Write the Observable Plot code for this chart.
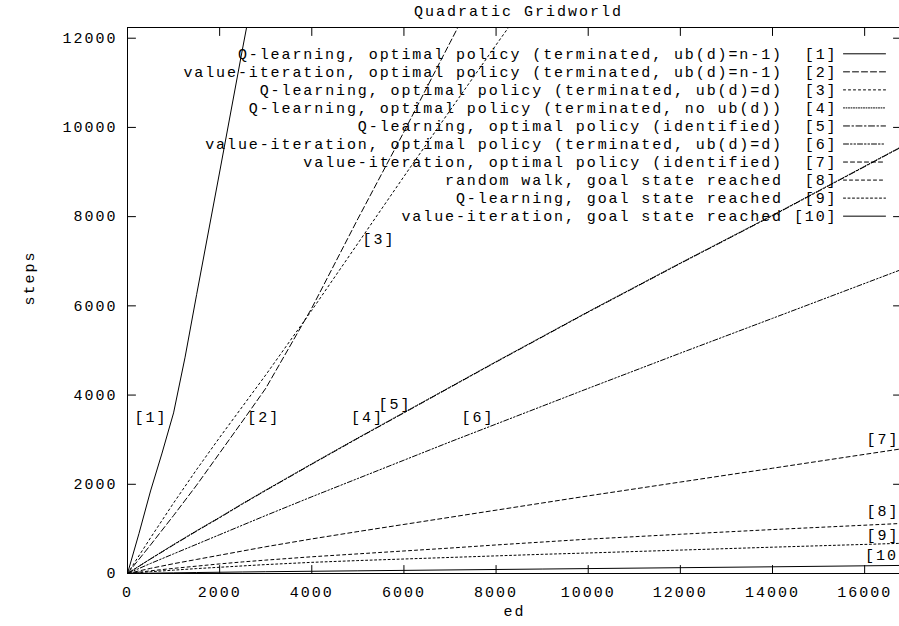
<!DOCTYPE html>
<html><head><meta charset="utf-8">
<script src="https://cdn.jsdelivr.net/npm/d3@7"></script>
<script src="https://cdn.jsdelivr.net/npm/@observablehq/plot@0.6"></script>
<style>
html,body{margin:0;padding:0;background:#fff;overflow:hidden}
#chart svg text{letter-spacing:2px}
#chart svg g.legend text{letter-spacing:1.9px}
</style></head><body><div id="chart"></div>
<script>
const title = "Quadratic Gridworld";
const xLabel = "ed";
const yLabel = "steps";
const xTicks = [0, 2000, 4000, 6000, 8000, 10000, 12000, 14000, 16000];
const yTicks = [0, 2000, 4000, 6000, 8000, 10000, 12000];

// common ed grid (null = no point at that ed for that series)
const ed = [0, 250, 500, 750, 1000, 1250, 1500, 2000, 2500, 3000, 4000, 5000, 6000, 7000, 8000, 9000, 10000, 12000, 14000, 16800];
const s1 = [0, 900, 1850, 2700, 3600, 4850, 6250, 9000, 11780, 14500, null, null, null, null, null, null, null, null, null, null];
const s2 = [0, null, 640, null, 1300, null, 1980, 2700, 3420, 4150, 5950, 7950, 9900, 11900, 13900, null, null, null, null, null];
const s3 = [0, null, 800, null, 1580, null, 2330, 3050, 3750, 4450, 5900, 7400, 8900, 10380, 11850, 13300, null, null, null, null];
const s4 = [0, null, 330, null, 650, null, 960, 1260, 1570, 1870, 2460, 3040, 3610, 4180, 4750, 5310, 5870, 6960, 8030, 9570];
const s5 = [0, null, 325, null, 640, null, 950, 1250, 1560, 1860, 2450, 3030, 3600, 4170, 4740, 5300, 5860, 6950, 8020, 9560];
const s6 = [0, null, 225, null, 440, null, 655, 870, 1085, 1300, 1720, 2130, 2540, 2950, 3350, 3750, 4150, 4940, 5720, 6815];
const s7 = [0, null, 115, null, 220, null, 315, 410, 505, 600, 775, 940, 1100, 1260, 1420, 1580, 1740, 2050, 2360, 2795];
const s8 = [0, null, 60, null, 115, null, 165, 215, 260, 300, 375, 440, 505, 570, 640, 705, 770, 880, 985, 1122];
const s9 = [0, null, 40, null, 75, null, 110, 140, 170, 200, 250, 290, 325, 360, 395, 430, 460, 525, 590, 677];
const s10 = [0, null, 8, null, 15, null, 22, 28, 34, 40, 50, 60, 70, 80, 90, 100, 110, 130, 150, 181];

const seriesNames = [
  "Q-learning, optimal policy (terminated, ub(d)=n-1)  [1]",
  "value-iteration, optimal policy (terminated, ub(d)=n-1)  [2]",
  "Q-learning, optimal policy (terminated, ub(d)=d)  [3]",
  "Q-learning, optimal policy (terminated, no ub(d))  [4]",
  "Q-learning, optimal policy (identified)  [5]",
  "value-iteration, optimal policy (terminated, ub(d)=d)  [6]",
  "value-iteration, optimal policy (identified)  [7]",
  "random walk, goal state reached  [8]",
  "Q-learning, goal state reached  [9]",
  "value-iteration, goal state reached [10]"
];
const seriesValues = [s1, s2, s3, s4, s5, s6, s7, s8, s9, s10];
const dashes = [null, "6,3", "2,3", "1,1.5", "6,2.5,1.5,2.5", "5,2,1.5,2,1.5,2", "4,3", "3,3", "2,2.5", null];

// in-plot tags (data coordinates)
const tagText = ["[1]", "[2]", "[3]", "[4]", "[5]", "[6]", "[7]", "[8]", "[9]", "[10]"];
const tagX = [150, 2600, 5100, 4850, 5450, 7250, 16040, 16040, 16040, 16010];
const tagY = [3500, 3500, 7500, 3500, 3800, 3500, 3000, 1400, 850, 400];
const tags = tagText.map((t, i) => ({t, x: tagX[i], y: tagY[i]}));

const seg = {draw(ctx, l) { ctx.moveTo(0, 0); ctx.lineTo(0, -l); }};
const fmt = d3.format("d");
const tickStyle = {length: 8, anchor: "start", shape: seg, stroke: "black", strokeWidth: 1};

const marks = [];
seriesValues.forEach((vals, i) => {
  const data = ed.map((x, j) => ({x, y: vals[j]})).filter(d => d.y != null);
  marks.push(Plot.line(data, {x: "x", y: "y", stroke: "black", strokeWidth: 1, strokeDasharray: dashes[i], clip: true}));
});
marks.push(
  Plot.frame({stroke: "black"}),
  Plot.vector(xTicks, {x: d => d, frameAnchor: "bottom", rotate: 0, ...tickStyle}),
  Plot.vector(xTicks, {x: d => d, frameAnchor: "top", rotate: 180, ...tickStyle}),
  Plot.vector(yTicks, {y: d => d, frameAnchor: "left", rotate: 90, ...tickStyle}),
  Plot.vector(yTicks, {y: d => d, frameAnchor: "right", rotate: -90, ...tickStyle}),
  Plot.axisX({anchor: "bottom", ticks: xTicks, tickSize: 0, tickPadding: 13, tickFormat: fmt, label: null, fill: "black"}),
  Plot.axisY({anchor: "left", ticks: yTicks, tickSize: 0, tickPadding: 10, tickFormat: fmt, label: null, fill: "black"}),
  Plot.text(tags, {x: "x", y: "y", text: "t", textAnchor: "start", lineAnchor: "middle", fill: "black"}),
  Plot.text([title], {frameAnchor: "top", lineAnchor: "middle", dx: 4, dy: -16, fill: "black"}),
  Plot.text([xLabel], {frameAnchor: "bottom", lineAnchor: "middle", dy: 38, fill: "black"}),
  Plot.text([yLabel], {frameAnchor: "left", lineAnchor: "middle", rotate: -90, dx: -98, dy: 5, fill: "black"})
);
seriesNames.forEach((name, i) => {
  marks.push(Plot.text([name], {frameAnchor: "top-right", textAnchor: "end", lineAnchor: "middle", dx: -64, dy: 26.3 + 18.04 * i, fill: "black", className: "legend"}));
  marks.push(Plot.vector([0], {frameAnchor: "top-right", dx: -58, dy: 26.3 + 18.04 * i, length: 42, rotate: 90, anchor: "start", shape: seg, stroke: "black", strokeWidth: 1, strokeDasharray: dashes[i]}));
});

const chart = Plot.plot({
  width: 899,
  height: 626,
  marginLeft: 127,
  marginRight: -2,
  marginTop: 27,
  marginBottom: 53,
  style: {fontFamily: "'Liberation Mono', monospace", fontSize: "15px", background: "white", color: "black"},
  x: {domain: [0, 16800]},
  y: {domain: [0, 12240]},
  marks
});
document.getElementById("chart").appendChild(chart);
</script>
</body></html>
